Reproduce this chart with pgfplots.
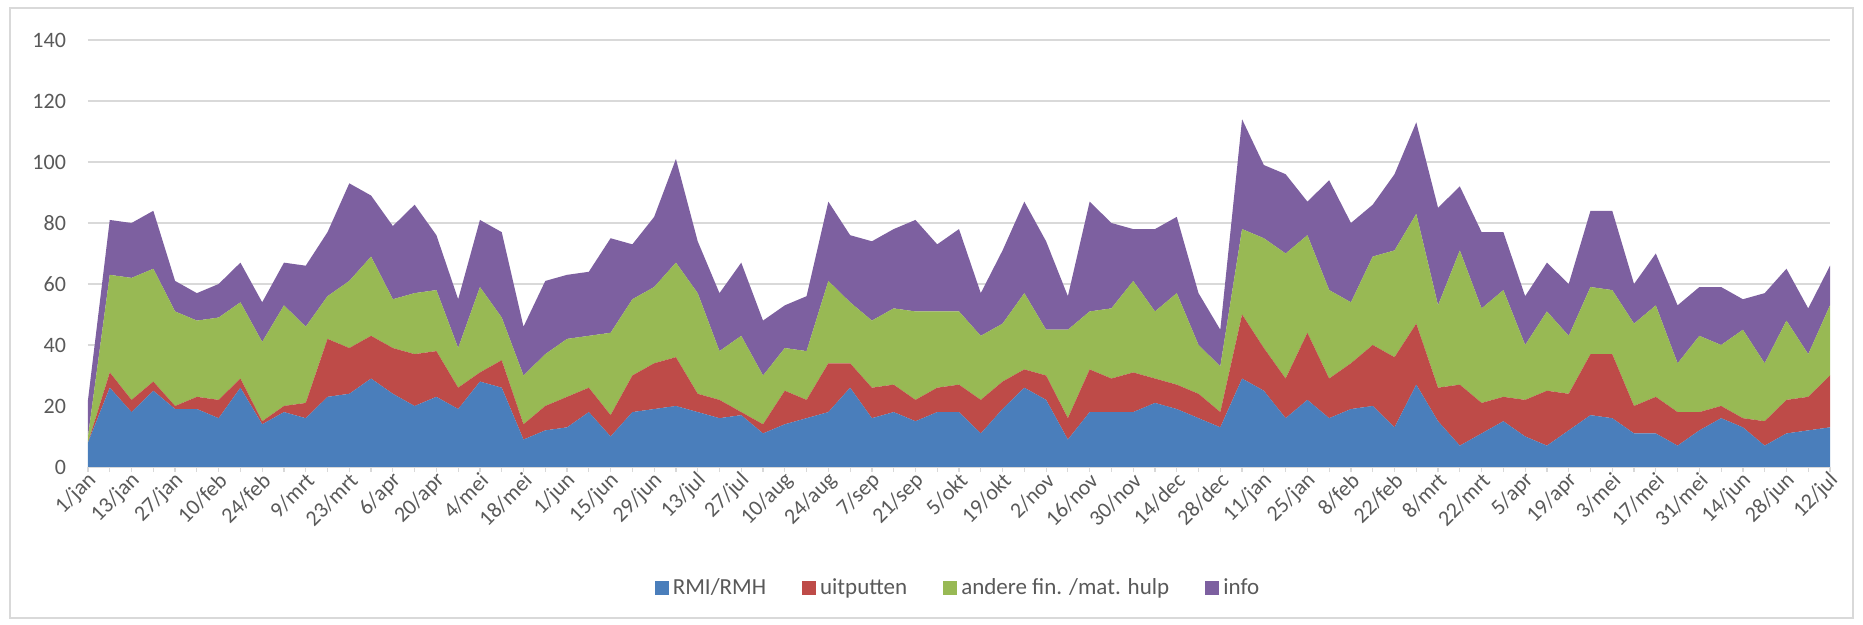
\documentclass[border=0pt]{standalone}
\usepackage{pgfplots}
\usepackage{pgfplotstable}
\usepackage{fontspec}
\setmainfont{Carlito}
\pgfplotsset{compat=1.18}

\definecolor{cblue}{HTML}{4A7EBB}
\definecolor{cred}{HTML}{BE4B48}
\definecolor{cgreen}{HTML}{98B954}
\definecolor{cpurple}{HTML}{7D60A0}
\definecolor{cgrid}{HTML}{D9D9D9}
\definecolor{ctext}{HTML}{595959}

% weekly counts per category
\pgfplotstableread{
x  blue red green info
0   8  0  2 12
1  26  5 32 18
2  18  4 40 18
3  25  3 37 19
4  19  1 31 10
5  19  4 25  9
6  16  6 27 11
7  26  3 25 13
8  14  1 26 13
9  18  2 33 14
10 16  5 25 20
11 23 19 14 21
12 24 15 22 32
13 29 14 26 20
14 24 15 16 24
15 20 17 20 29
16 23 15 20 18
17 19  7 13 16
18 28  3 28 22
19 26  9 14 28
20  9  5 16 16
21 12  8 17 24
22 13 10 19 21
23 18  8 17 21
24 10  7 27 31
25 18 12 25 18
26 19 15 25 23
27 20 16 31 34
28 18  6 33 17
29 16  6 16 19
30 17  1 25 24
31 11  3 16 18
32 14 11 14 14
33 16  6 16 18
34 18 16 27 26
35 26  8 20 22
36 16 10 22 26
37 18  9 25 26
38 15  7 29 30
39 18  8 25 22
40 18  9 24 27
41 11 11 21 14
42 19  9 19 24
43 26  6 25 30
44 22  8 15 29
45  9  7 29 11
46 18 14 19 36
47 18 11 23 28
48 18 13 30 17
49 21  8 22 27
50 19  8 30 25
51 16  8 16 17
52 13  5 15 12
53 29 21 28 36
54 25 14 36 24
55 16 13 41 26
56 22 22 32 11
57 16 13 29 36
58 19 15 20 26
59 20 20 29 17
60 13 23 35 25
61 27 20 36 30
62 15 11 27 32
63  7 20 44 21
64 11 10 31 25
65 15  8 35 19
66 10 12 18 16
67  7 18 26 16
68 12 12 19 17
69 17 20 22 25
70 16 21 21 26
71 11  9 27 13
72 11 12 30 17
73  7 11 16 19
74 12  6 25 16
75 16  4 20 19
76 13  3 29 10
77  7  8 19 23
78 11 11 26 17
79 12 11 14 15
80 13 17 23 13
}\weekly

\begin{document}
\begin{tikzpicture}
\begin{axis}[
    scale only axis,
    width=871pt, height=213.5pt,
    xmin=0, xmax=80, ymin=0, ymax=140,
    stack plots=y,
    axis lines*=left,
    y axis line style={draw=none},
    x axis line style={draw=cgrid, line width=0.6pt},
    ytick={0,20,...,140},
    ytick style={draw=none},
    ymajorgrids,
    grid style={cgrid, line width=0.6pt},
    xtick={0,2,...,80},
    minor xtick={1,3,...,79},
    xticklabels={1/jan,13/jan,27/jan,10/feb,24/feb,9/mrt,23/mrt,6/apr,20/apr,4/mei,18/mei,1/jun,15/jun,29/jun,13/jul,27/jul,10/aug,24/aug,7/sep,21/sep,5/okt,19/okt,2/nov,16/nov,30/nov,14/dec,28/dec,11/jan,25/jan,8/feb,22/feb,8/mrt,22/mrt,5/apr,19/apr,3/mei,17/mei,31/mei,14/jun,28/jun,12/jul},
    tick align=outside,
    major tick length=2.5pt,
    minor tick length=2.5pt,
    xtick style={draw=cgrid, line width=0.6pt},
    xminorgrids=false,
    /pgf/number format/assume math mode=true,
    tick label style={font=\fontsize{11}{13}\selectfont, text=ctext},
    xticklabel style={rotate=45, anchor=east, inner sep=1pt, yshift=-3.5pt, xshift=1pt},
    yticklabel style={xshift=-5pt},
    legend columns=-1,
    legend style={at={(0.5,-0.283)}, anchor=center, draw=none,
        font=\fontsize{11.5}{13}\selectfont, text=ctext,
        /tikz/every even column/.append style={column sep=16pt}},
    legend image code/.code={\fill[#1] (0pt,-3.5pt) rectangle (7pt,3.5pt);},
]
\addplot[fill=cblue, draw=none] table[x=x, y=blue] {\weekly} \closedcycle;
\addlegendentry{RMI/RMH}
\addplot[fill=cred, draw=none] table[x=x, y=red] {\weekly} \closedcycle;
\addlegendentry{uitputten}
\addplot[fill=cgreen, draw=none] table[x=x, y=green] {\weekly} \closedcycle;
\addlegendentry{andere fin. /mat. hulp}
\addplot[fill=cpurple, draw=none] table[x=x, y=info] {\weekly} \closedcycle;
\addlegendentry{info}
\end{axis}
\draw[cgrid, line width=0.6pt] (-39pt,-75.5pt) rectangle (882.5pt,229.5pt);
\useasboundingbox (-44pt,-79pt) rectangle (887.5pt,233.5pt);
\end{tikzpicture}
\end{document}
